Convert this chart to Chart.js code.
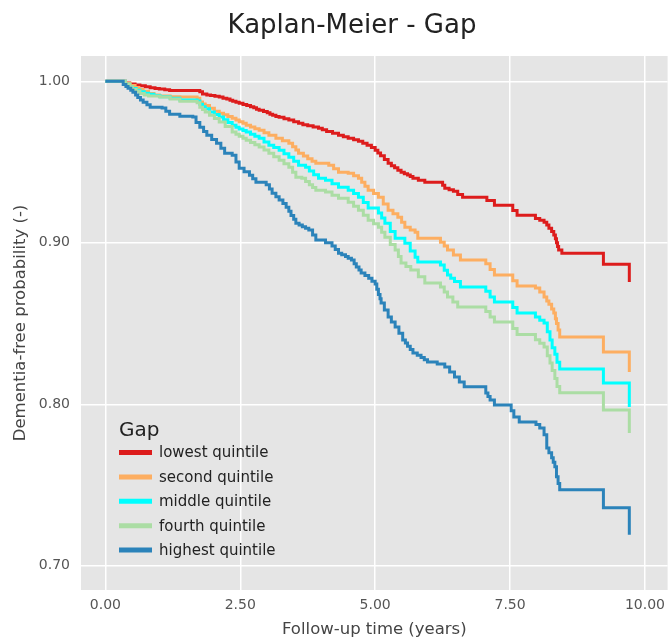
<!DOCTYPE html>
<html>
<head>
<meta charset="utf-8">
<script src="https://cdn.jsdelivr.net/npm/chart.js@4/dist/chart.umd.min.js"></script>
<style>
  body{margin:0;background:#fff;}
  #myChart{display:block;}
</style>
</head>
<body>
<canvas id="myChart" width="672" height="641"></canvas>
<script>
// 제목, 축, 범례 글자
var v_title = "Kaplan-Meier - Gap";
var v_xtitle = "Follow-up time (years)";
var v_ytitle = "Dementia-free probability (-)";
var v_legendTitle = "Gap";
var v_labels = ["lowest quintile","second quintile","middle quintile","fourth quintile","highest quintile"];

// 눈금
var v_xticks = [0, 2.5, 5, 7.5, 10];
var v_yticks = [0.70, 0.80, 0.90, 1.00];

// 생존곡선 [시간, 확률] (계단 - 각 시점에서 떨어짐)
var v_lowest = [[0,1],[0.37,0.9990],[0.45,0.9984],[0.55,0.9978],[0.64,0.9972],[0.74,0.9966],[0.83,0.9961],[0.92,0.9956],
  [1.00,0.9952],[1.10,0.9948],[1.19,0.9944],[1.75,0.9935],[1.80,0.9922],[1.88,0.9916],[1.95,0.9912],[2.03,0.9908],
  [2.11,0.9903],[2.18,0.9896],[2.25,0.9890],[2.31,0.9883],[2.36,0.9876],[2.42,0.9870],[2.48,0.9864],[2.55,0.9857],
  [2.62,0.9850],[2.69,0.9843],[2.75,0.9836],[2.80,0.9828],[2.85,0.9821],[2.93,0.9813],[3.00,0.9805],[3.05,0.9797],
  [3.10,0.9790],[3.16,0.9783],[3.22,0.9777],[3.31,0.9768],[3.40,0.9760],[3.49,0.9750],[3.58,0.9740],[3.66,0.9732],
  [3.75,0.9725],[3.85,0.9717],[3.95,0.9709],[4.02,0.9700],[4.10,0.9690],[4.21,0.9678],[4.32,0.9666],[4.41,0.9657],
  [4.50,0.9648],[4.60,0.9638],[4.69,0.9629],[4.77,0.9617],[4.85,0.9605],[4.93,0.9590],[5.00,0.9573],[5.05,0.9556],
  [5.10,0.9540],[5.17,0.9516],[5.24,0.9493],[5.30,0.9478],[5.36,0.9465],[5.42,0.9450],[5.48,0.9437],[5.54,0.9428],
  [5.60,0.9420],[5.65,0.9410],[5.70,0.9400],[5.80,0.9388],[5.92,0.9375],[6.25,0.9356],[6.29,0.9338],[6.37,0.9329],
  [6.45,0.9320],[6.53,0.9300],[6.62,0.9283],[7.07,0.9262],[7.21,0.9233],[7.55,0.9200],[7.63,0.9171],[7.97,0.9150],
  [8.05,0.9140],[8.13,0.9128],[8.18,0.9110],[8.22,0.9090],[8.27,0.9070],[8.31,0.9048],[8.34,0.9025],[8.36,0.9000],
  [8.38,0.8978],[8.40,0.8955],[8.46,0.8936],[9.23,0.8868],[9.71,0.8757]];
var v_second = [[0,1],[0.37,0.9988],[0.46,0.9975],[0.55,0.9962],[0.62,0.9950],[0.70,0.9938],[0.80,0.9925],[0.90,0.9916],
  [1.00,0.9910],[1.20,0.9905],[1.38,0.9903],[1.70,0.9895],[1.75,0.9872],[1.80,0.9860],[1.85,0.9850],[1.93,0.9833],
  [2.02,0.9815],[2.11,0.9802],[2.19,0.9793],[2.27,0.9782],[2.35,0.9771],[2.42,0.9760],[2.48,0.9750],[2.55,0.9740],
  [2.61,0.9728],[2.69,0.9718],[2.77,0.9707],[2.85,0.9697],[2.94,0.9682],[3.03,0.9666],[3.16,0.9648],[3.28,0.9632],
  [3.40,0.9617],[3.47,0.9595],[3.53,0.9575],[3.58,0.9555],[3.67,0.9537],[3.75,0.9520],[3.83,0.9505],[3.90,0.9493],
  [4.14,0.9480],[4.23,0.9458],[4.32,0.9437],[4.50,0.9431],[4.60,0.9415],[4.69,0.9400],[4.75,0.9375],[4.81,0.9350],
  [4.87,0.9326],[4.97,0.9305],[5.06,0.9283],[5.15,0.9240],[5.24,0.9202],[5.33,0.9180],[5.42,0.9159],[5.49,0.9128],
  [5.55,0.9097],[5.65,0.9080],[5.74,0.9066],[5.79,0.9029],[6.21,0.9004],[6.28,0.8980],[6.34,0.8955],[6.45,0.8925],
  [6.58,0.8893],[7.05,0.8870],[7.13,0.8835],[7.21,0.8800],[7.55,0.8765],[7.63,0.8732],[7.97,0.8720],[8.05,0.8695],
  [8.13,0.8664],[8.18,0.8640],[8.22,0.8620],[8.27,0.8590],[8.31,0.8565],[8.34,0.8530],[8.36,0.8500],[8.39,0.8460],
  [8.42,0.8417],[9.23,0.8324],[9.71,0.8200]];
var v_middle = [[0,1],[0.37,0.9982],[0.45,0.9965],[0.50,0.9955],[0.57,0.9945],[0.64,0.9935],[0.72,0.9927],[0.80,0.9920],
  [0.90,0.9912],[1.01,0.9905],[1.20,0.9895],[1.38,0.9885],[1.70,0.9878],[1.75,0.9858],[1.80,0.9842],[1.85,0.9830],
  [1.93,0.9810],[2.02,0.9795],[2.11,0.9779],[2.19,0.9762],[2.27,0.9745],[2.35,0.9728],[2.42,0.9716],[2.48,0.9705],
  [2.55,0.9695],[2.61,0.9686],[2.69,0.9673],[2.77,0.9660],[2.85,0.9647],[2.94,0.9625],[3.03,0.9604],[3.12,0.9590],
  [3.22,0.9573],[3.31,0.9552],[3.40,0.9530],[3.49,0.9505],[3.58,0.9480],[3.71,0.9468],[3.78,0.9445],[3.86,0.9422],
  [3.95,0.9400],[4.08,0.9388],[4.20,0.9366],[4.32,0.9344],[4.50,0.9326],[4.60,0.9305],[4.69,0.9283],[4.78,0.9250],
  [4.87,0.9215],[5.06,0.9184],[5.12,0.9153],[5.18,0.9122],[5.28,0.9070],[5.37,0.9029],[5.55,0.8998],[5.65,0.8950],
  [5.74,0.8911],[5.79,0.8881],[6.21,0.8862],[6.28,0.8830],[6.34,0.8800],[6.40,0.8780],[6.47,0.8760],[6.58,0.8726],
  [7.05,0.8700],[7.13,0.8665],[7.21,0.8633],[7.55,0.8600],[7.63,0.8565],[7.97,0.8540],[8.05,0.8520],[8.13,0.8503],
  [8.19,0.8450],[8.24,0.8398],[8.28,0.8350],[8.33,0.8310],[8.37,0.8260],[8.42,0.8219],[9.23,0.8132],[9.71,0.7984]];
var v_fourth = [[0,1],[0.37,0.9982],[0.45,0.9965],[0.50,0.9950],[0.57,0.9938],[0.64,0.9925],[0.72,0.9916],[0.80,0.9910],
  [1.01,0.9903],[1.20,0.9890],[1.38,0.9876],[1.70,0.9868],[1.75,0.9839],[1.80,0.9825],[1.85,0.9810],[1.93,0.9790],
  [2.02,0.9770],[2.11,0.9748],[2.22,0.9720],[2.35,0.9686],[2.42,0.9672],[2.48,0.9660],[2.55,0.9648],[2.61,0.9635],
  [2.69,0.9622],[2.77,0.9608],[2.85,0.9594],[2.94,0.9575],[3.03,0.9555],[3.12,0.9533],[3.22,0.9511],[3.31,0.9490],
  [3.40,0.9468],[3.47,0.9437],[3.53,0.9406],[3.64,0.9400],[3.71,0.9380],[3.78,0.9360],[3.84,0.9343],[3.90,0.9326],
  [4.08,0.9314],[4.20,0.9295],[4.32,0.9276],[4.50,0.9252],[4.60,0.9227],[4.69,0.9202],[4.78,0.9171],[4.87,0.9140],
  [4.97,0.9118],[5.06,0.9097],[5.12,0.9066],[5.18,0.9035],[5.28,0.8990],[5.37,0.8955],[5.43,0.8915],[5.48,0.8875],
  [5.57,0.8853],[5.66,0.8831],[5.80,0.8790],[5.92,0.8751],[6.21,0.8726],[6.28,0.8695],[6.34,0.8664],[6.44,0.8633],
  [6.53,0.8602],[7.05,0.8575],[7.13,0.8540],[7.21,0.8510],[7.55,0.8470],[7.63,0.8432],[7.97,0.8400],[8.05,0.8378],
  [8.13,0.8355],[8.19,0.8300],[8.24,0.8256],[8.28,0.8210],[8.33,0.8160],[8.37,0.8110],[8.42,0.8071],[9.23,0.7965],
  [9.71,0.7823]];
var v_highest = [[0,1],[0.33,0.9980],[0.38,0.9968],[0.42,0.9958],[0.47,0.9945],[0.51,0.9932],[0.56,0.9915],[0.60,0.9900],
  [0.65,0.9885],[0.70,0.9870],[0.77,0.9855],[0.83,0.9839],[1.05,0.9835],[1.12,0.9815],[1.19,0.9796],[1.38,0.9784],
  [1.62,0.9780],[1.68,0.9745],[1.75,0.9716],[1.82,0.9690],[1.88,0.9666],[1.97,0.9640],[2.06,0.9617],[2.14,0.9585],
  [2.21,0.9555],[2.35,0.9542],[2.42,0.9500],[2.48,0.9462],[2.57,0.9440],[2.67,0.9418],[2.73,0.9397],[2.79,0.9375],
  [2.98,0.9360],[3.04,0.9333],[3.09,0.9307],[3.16,0.9286],[3.22,0.9265],[3.29,0.9243],[3.35,0.9221],[3.40,0.9195],
  [3.44,0.9170],[3.49,0.9146],[3.53,0.9122],[3.59,0.9111],[3.65,0.9100],[3.71,0.9090],[3.77,0.9079],[3.84,0.9048],
  [3.90,0.9017],[4.08,0.9000],[4.20,0.8980],[4.26,0.8958],[4.32,0.8936],[4.38,0.8926],[4.45,0.8915],[4.50,0.8904],
  [4.56,0.8893],[4.61,0.8870],[4.65,0.8850],[4.70,0.8832],[4.74,0.8813],[4.81,0.8797],[4.88,0.8780],[4.94,0.8762],
  [5.00,0.8745],[5.03,0.8712],[5.06,0.8680],[5.09,0.8653],[5.11,0.8627],[5.17,0.8584],[5.24,0.8541],[5.30,0.8510],
  [5.37,0.8479],[5.44,0.8440],[5.51,0.8398],[5.56,0.8379],[5.60,0.8360],[5.65,0.8339],[5.70,0.8318],[5.78,0.8304],
  [5.85,0.8290],[5.91,0.8276],[5.97,0.8262],[6.15,0.8250],[6.29,0.8231],[6.38,0.8200],[6.47,0.8169],[6.56,0.8138],
  [6.65,0.8108],[7.05,0.8070],[7.09,0.8048],[7.13,0.8027],[7.21,0.7996],[7.52,0.7960],[7.57,0.7922],[7.67,0.7891],
  [7.98,0.7875],[8.05,0.7854],[8.13,0.7811],[8.18,0.7730],[8.22,0.7700],[8.27,0.7669],[8.30,0.7641],[8.33,0.7613],
  [8.36,0.7551],[8.39,0.7510],[8.42,0.7471],[9.23,0.7359],[9.71,0.7192]];

var v_series = [v_lowest, v_second, v_middle, v_fourth, v_highest];
var v_colors = ["#dd1c1c","#fdae61","#00ffff","#abdda4","#2b83ba"];
var v_font = "DejaVu Sans";

// 회색 배경 (ggplot 스타일)
var p_bg = {
  id: "p_bg",
  beforeDraw: function(chart){
    var a = chart.chartArea, c = chart.ctx;
    c.save();
    c.fillStyle = "#e5e5e5";
    c.fillRect(a.left, a.top, a.right - a.left, a.bottom - a.top);
    c.restore();
  }
};

// 제목 - 원본처럼 조금 오른쪽
var p_title = {
  id: "p_title",
  afterDraw: function(chart){
    var c = chart.ctx;
    c.save();
    c.fillStyle = "#222";
    c.textAlign = "center";
    c.textBaseline = "alphabetic";
    c.font = "26px '" + v_font + "'";
    c.fillText(v_title, 352, 33);
    c.restore();
  }
};

// 범례 - 그래프 안쪽 왼쪽 아래
var p_legend = {
  id: "p_legend",
  afterDatasetsDraw: function(chart){
    var c = chart.ctx, a = chart.chartArea;
    var x0 = a.left + 38, y0 = 431;
    c.save();
    c.textBaseline = "middle";
    c.textAlign = "left";
    c.fillStyle = "#222";
    c.font = "20px '" + v_font + "'";
    c.fillText(v_legendTitle, x0, y0);
    c.font = "15px '" + v_font + "'";
    var sets = chart.data.datasets;
    for(var i=0; i<sets.length; i++){
      var y = y0 + 21.5 + i*24.4;
      c.strokeStyle = sets[i].borderColor;
      c.lineWidth = 5;
      c.beginPath();
      c.moveTo(x0, y);
      c.lineTo(x0 + 33, y);
      c.stroke();
      c.fillStyle = "#222";
      c.fillText(sets[i].label, x0 + 40, y + 1);
    }
    c.restore();
  }
};

var v_datasets = [];
for(var i=0; i<v_series.length; i++){
  v_datasets.push({
    label: v_labels[i],
    data: v_series[i].map(function(p){ return {x:p[0], y:p[1]}; }),
    borderColor: v_colors[i],
    backgroundColor: v_colors[i],
    borderWidth: 3,
    stepped: "before",
    pointRadius: 0,
    fill: false,
    order: v_series.length - i
  });
}

var ctx = document.getElementById("myChart").getContext("2d");
var myChart = new Chart(ctx, {
  type: "line",
  data: { datasets: v_datasets },
  options: {
    responsive: false,
    animation: false,
    layout: { padding: { top: 56 } },
    plugins: {
      legend: { display: false },
      tooltip: { enabled: false },
      title: { display: false }
    },
    scales: {
      x: {
        type: "linear",
        min: -0.452,
        max: 10.42,
        afterBuildTicks: function(s){ s.ticks = v_xticks.map(function(v){ return {value:v}; }); },
        afterFit: function(s){ s.height = 51; },
        ticks: {
          callback: function(v){ return Number(v).toFixed(2); },
          color: "#555",
          font: { family: v_font, size: 14 },
          padding: 7,
          maxRotation: 0
        },
        grid: { color: "#fff", lineWidth: 1.5, drawTicks: false },
        border: { display: false },
        title: {
          display: true,
          text: v_xtitle,
          color: "#444",
          font: { family: v_font, size: 16.5 },
          padding: { top: 0, bottom: 1 }
        }
      },
      y: {
        type: "linear",
        min: 0.685,
        max: 1.0157,
        afterBuildTicks: function(s){ s.ticks = v_yticks.map(function(v){ return {value:v}; }); },
        afterFit: function(s){ s.width = 81; },
        ticks: {
          callback: function(v){ return Number(v).toFixed(2); },
          color: "#555",
          font: { family: v_font, size: 14 },
          padding: 11
        },
        grid: { color: "#fff", lineWidth: 1.5, drawTicks: false },
        border: { display: false },
        title: {
          display: true,
          text: v_ytitle,
          color: "#444",
          font: { family: v_font, size: 16.5 },
          padding: { top: 11, bottom: 0 }
        }
      }
    }
  },
  plugins: [p_bg, p_title, p_legend]
});
</script>
</body>
</html>
